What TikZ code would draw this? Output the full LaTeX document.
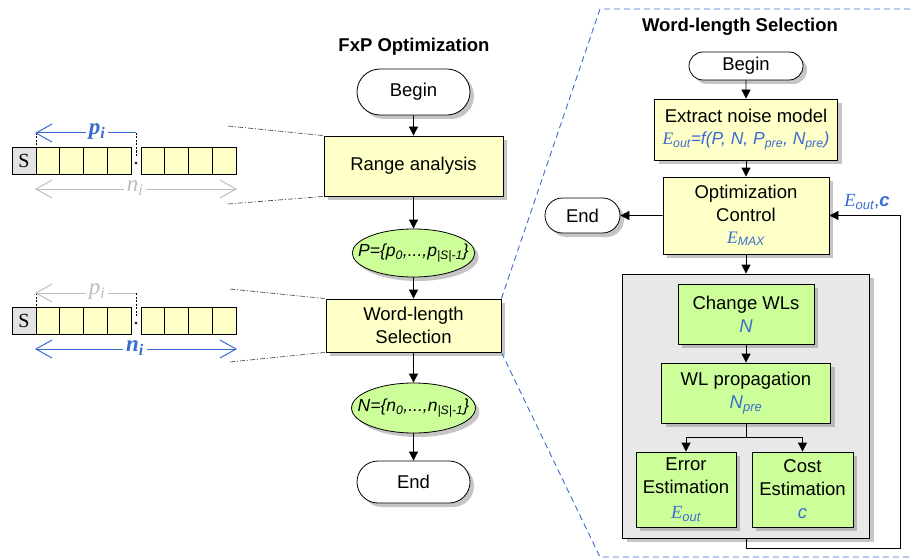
\documentclass[tikz,border=0pt]{standalone}
\usepackage{fontspec}
\setmainfont{Liberation Sans}
\newfontfamily\serifff{Liberation Serif}
\usetikzlibrary{arrows.meta,shapes.geometric,shapes.misc,shadows}
\definecolor{cyel}{HTML}{FFFFC8}
\definecolor{cgreen}{HTML}{CCFF99}
\definecolor{cpanel}{HTML}{E8E8E8}
\definecolor{cblue}{HTML}{3A6BD0}
\definecolor{cgrey}{HTML}{BDBDBD}
\definecolor{sgray}{HTML}{E2E2E2}
\newcommand\fs{\fontsize{18.5}{23}\selectfont}
\newcommand\bl{\color{cblue}}
\newcommand\EE[1]{{\serifff\itshape E}\textsubscript{\itshape #1}}
\newcommand\bitfield[5]{%
\begin{scope}[shift={(0,#1)}]
 \draw[cell,fill=sgray] (12,147) rectangle (36,174);
 \node[font=\fontsize{20}{20}\selectfont\serifff] (s#1) at (24,160.5) {S};
 \foreach \i in {0,...,3} {
   \draw[cell] (36+23.75*\i,147) rectangle ++(23.75,27);
   \draw[cell] (141+23.75*\i,147) rectangle ++(23.75,27);
 }
 \fill (136,163) circle (1.4);
 \draw[smalldash] (36,133) -- (36,147);
 \draw[smalldash] (136,133) -- (136,157);
 \draw[vline,#2] (36,133) -- (136,133);
 \draw[vline,#2] (52,124) -- (36,133) -- (52,142);
 \node[lbl,text=#2] (p#1) at (97,132) {#4p\textsubscript{i}};
 \draw[vline,#3] (36,189) -- (236,189);
 \draw[vline,#3] (52,180) -- (36,189) -- (52,198);
 \draw[vline,#3] (220,180) -- (236,189) -- (220,198);
 \node[lbl,text=#3] (n#1) at (135,188) {#5n\textsubscript{i}};
\end{scope}}
\begin{document}
\begin{tikzpicture}[x=1pt,y=-1pt,
  every node/.style={font=\fs},
  sh/.style={drop shadow={shadow xshift=4pt,shadow yshift=-4pt,fill=black!45}},
  ybox/.style={draw,line width=.8pt,fill=cyel,sh,inner sep=0pt,align=center},
  gbox/.style={draw,line width=.8pt,fill=cgreen,sh,inner sep=0pt,align=center},
  pill/.style={draw,line width=.8pt,fill=white,rounded rectangle,sh,inner sep=0pt},
  ell/.style={draw,line width=.8pt,fill=cgreen,ellipse,sh,inner xsep=-12pt,inner ysep=0pt,font=\fontsize{17.5}{20}\selectfont\itshape},
  flow/.style={line width=.8pt,-{Triangle[length=9pt,width=9pt]}},
  ttl/.style={font=\fontsize{18.5}{22}\selectfont\bfseries},
  cell/.style={draw,line width=.8pt,fill=cyel},
  smalldash/.style={line width=.6pt,dash pattern=on 2pt off 1.5pt},
  ddot/.style={line width=.6pt,dash pattern=on 5pt off 2pt on 1pt off 2pt,black!80},
  bdash/.style={line width=.9pt,cblue,dash pattern=on 6pt off 4pt},
  vline/.style={line width=1pt,line join=miter},
  lbl/.style={fill=white,inner xsep=3pt,inner ysep=0pt,font=\fontsize{23}{23}\selectfont\serifff\itshape}
]
\useasboundingbox (0,0) rectangle (910,559);

% bit fields
\bitfield{0}{cblue}{cgrey}{\bfseries}{\mdseries}
\bitfield{160}{cgrey}{cblue}{\mdseries}{\bfseries}

% left flow
\node[ttl] (t1) at (414,47) {FxP Optimization};
\node[pill,minimum width=113,minimum height=46] (b1) at (413.5,92) {Begin};
\node[ybox,minimum width=179,minimum height=60] (ra) at (413.5,166) {Range analysis};
\node[ell,minimum width=122,minimum height=48] (P) at (413.5,253) {P=\{p\textsubscript{0},...,p\textsubscript{|S|-1}\}};
\node[ybox,minimum width=175,minimum height=53] (wl) at (413.5,325.5) {Word-length\\Selection};
\node[ell,minimum width=122,minimum height=50] (N) at (413.5,408) {N=\{n\textsubscript{0},...,n\textsubscript{|S|-1}\}};
\node[pill,minimum width=113,minimum height=42] (e1) at (413.5,482) {End};

\draw[flow] (b1) -- (ra);
\draw[flow] (ra) -- (P);
\draw[flow] (P) -- (wl);
\draw[flow] (wl) -- (N);
\draw[flow] (N) -- (e1);

% dash-dot guides
\coordinate (d1) at (228,126);
\coordinate (d2) at (228,204);
\coordinate (d3) at (230,289);
\coordinate (d4) at (230,362);
\draw[ddot] (d1) -- (ra.north west);
\draw[ddot] (d2) -- (ra.south west);
\draw[ddot] (d3) -- (wl.north west);
\draw[ddot] (d4) -- (wl.south west);

% zoom panel
\coordinate (c1) at (600,9);
\coordinate (c2) at (910,9);
\coordinate (c3) at (600,557);
\coordinate (c4) at (910,557);
\draw[bdash] (wl.north east) -- (c1) -- (c2);
\draw[bdash] (wl.south east) -- (c3) -- (c4);

\node[ttl] (t2) at (740,27) {Word-length Selection};
\node[pill,minimum width=114,minimum height=28] (b2) at (746,66) {Begin};
\node[ybox,minimum width=183,minimum height=61] (enm) at (746,129.5) {Extract noise model\\[-1pt]{\bl\fontsize{17.5}{20}\selectfont\EE{out}\itshape =f(P, N, P\textsubscript{pre}, N\textsubscript{pre})}};
\node[ybox,minimum width=166,minimum height=77] (oc) at (746,215.5) {Optimization\\Control\\[-1pt]{\bl\fontsize{17.5}{20}\selectfont\EE{MAX}}};
\node[pill,minimum width=75,minimum height=35] (e2) at (582.5,215.5) {End};
\node[draw,line width=.8pt,fill=cpanel,sh,minimum width=247,minimum height=264] (gp) at (746,406) {};
\node[gbox,minimum width=136,minimum height=60] (cw) at (746,314) {Change WLs\\{\bl\itshape N}};
\node[gbox,minimum width=169,minimum height=60] (wlp) at (746,393) {WL propagation\\{\bl\itshape N\textsubscript{pre}}};
\node[gbox,minimum width=100,minimum height=75] (ee) at (686,489.5) {Error\\Estimation\\[2pt]{\bl\EE{out}}};
\node[gbox,minimum width=101,minimum height=75] (ce) at (802.5,489.5) {Cost\\Estimation\\{\bl\itshape c}};

\draw[flow] (b2) -- (enm);
\draw[flow] (enm) -- (oc);
\draw[flow] (oc) -- (e2);
\draw[flow] (oc.south) -- (gp.north);
\draw[flow] (cw) -- (wlp);
\coordinate (sp) at (746,437);
\draw[line width=.8pt] (wlp.south) -- (sp);
\draw[flow] (sp) -| (ee.north);
\draw[flow] (sp) -| (ce.north);
\coordinate (f1) at (746,548);
\coordinate (f2) at (900,548);
\draw[flow] (gp.south) -- (f1) -- (f2) |- (oc.east);
\node (fl) at (867,202) {\bl\EE{out},\textbf{\itshape c}};
\end{tikzpicture}
\end{document}
